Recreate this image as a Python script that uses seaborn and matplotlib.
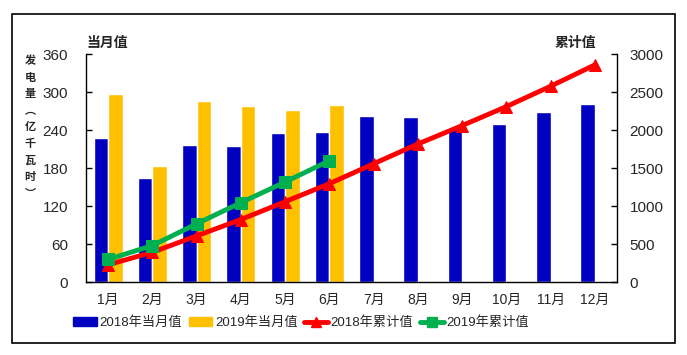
import numpy as np
import pandas as pd
import matplotlib
matplotlib.use('Agg')
import matplotlib.pyplot as plt
from matplotlib.patches import Rectangle, Patch
from matplotlib.lines import Line2D
import seaborn as sns

# data
months = ['1月', '2月', '3月', '4月', '5月', '6月', '7月', '8月', '9月', '10月', '11月', '12月']
monthly_2018 = [227, 164, 216, 215, 235, 237, 262, 260, 242, 250, 268, 281]
monthly_2019 = [297, 183, 286, 278, 272, 280, np.nan, np.nan, np.nan, np.nan, np.nan, np.nan]
cum_2018 = [227, 391, 607, 822, 1057, 1294, 1556, 1816, 2058, 2308, 2576, 2857]
cum_2019 = [297, 480, 766, 1044, 1316, 1596]
series_names = ['2018年当月值', '2019年当月值', '2018年累计值', '2019年累计值']

blue = '#0000C0'
orange = '#FFC000'
red = '#FF0000'
green = '#00B050'

sns.set_style('white')
plt.rcParams['font.family'] = ['Liberation Sans', 'Noto Sans CJK SC']

bars = pd.DataFrame({
    'month': months * 2,
    'value': monthly_2018 + monthly_2019,
    'series': [series_names[0]] * 12 + [series_names[1]] * 12,
})

fig = plt.figure(figsize=(6.87, 3.55), dpi=100)
ax = fig.add_axes([86 / 687, 1 - 282 / 355, (617 - 86) / 687, (282 - 54) / 355])

sns.barplot(data=bars, x='month', y='value', hue='series', hue_order=series_names[:2],
            order=months, palette=[blue, orange], width=0.66, saturation=1,
            legend=False, ax=ax)

ax2 = ax.twinx()
pos = np.arange(len(months))
sns.lineplot(x=pos, y=cum_2018, ax=ax2, color=red, lw=3.5, marker='^',
             markersize=8, markeredgecolor=red)
sns.lineplot(x=pos[:len(cum_2019)], y=cum_2019, ax=ax2, color=green, lw=3.5, marker='s',
             markersize=8, markeredgecolor=green)

ax.set_xlim(-0.5, 11.5)
ax.set_ylim(0, 360)
ax2.set_ylim(0, 3000)
ax.set_yticks(np.arange(0, 361, 60))
ax2.set_yticks(np.arange(0, 3001, 500))
ax.set_xlabel('')
ax.set_ylabel('')
ax2.set_ylabel('')

ax.set_xticks(pos)
ax.set_xticklabels(months)
ax.set_xticks(np.arange(-0.5, 12, 1), minor=True)
ax.tick_params(axis='x', which='major', length=0, pad=8, labelsize=10)
ax.tick_params(axis='x', which='minor', direction='in', length=4, width=1, color='black')
ax.tick_params(axis='y', direction='in', length=4, width=1, color='black', pad=13, labelsize=11)
ax2.tick_params(axis='y', direction='in', length=4, width=1, color='black', pad=9, labelsize=11)
ax.yaxis.set_ticks_position('left')

for a in (ax, ax2):
    a.spines['top'].set_visible(False)
    for s in a.spines.values():
        s.set_color('black')
        s.set_linewidth(1)
ax.spines['right'].set_visible(False)
ax2.spines['left'].set_visible(False)
ax2.spines['bottom'].set_visible(False)
ax.set_facecolor('none')

# texts
fig.text(107 / 687, 1 - 43 / 355, '当月值', ha='center', va='center', fontsize=10, fontweight='bold')
fig.text(575 / 687, 1 - 43 / 355, '累计值', ha='center', va='center', fontsize=10, fontweight='bold')
fig.text(30 / 687, 1 - 56 / 355, '发\n电\n量\n︵\n亿\n千\n瓦\n时\n︶', ha='center', va='top',
         fontsize=8, fontweight='bold', linespacing=1.8)

handles = [
    Patch(color=blue),
    Patch(color=orange),
    Line2D([], [], color=red, lw=3.5, marker='^', markersize=7),
    Line2D([], [], color=green, lw=3.5, marker='s', markersize=7),
]
fig.legend(handles, series_names, loc='center', bbox_to_anchor=(301 / 687, 1 - 323 / 355), ncol=4,
           frameon=False, fontsize=9.5, handlelength=1.8, handletextpad=0.2, columnspacing=0.5,
           handleheight=0.6, borderpad=0)

fig.patches.append(Rectangle((12 / 687, 1 - 343 / 355), 663 / 687, 329 / 355, transform=fig.transFigure,
                             fill=False, edgecolor='black', lw=1.2))

fig.savefig('out.png', dpi=100)
